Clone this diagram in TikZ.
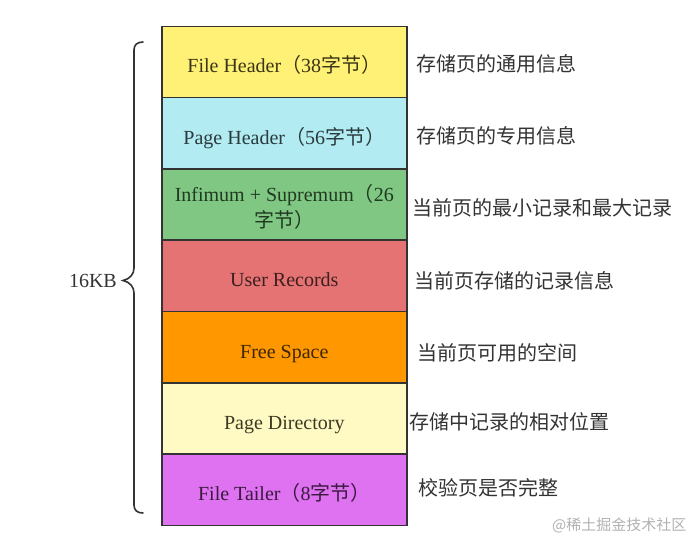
\documentclass[tikz,border=0pt]{standalone}
\usepackage{fontspec}
\setmainfont{Liberation Serif}
\newfontfamily\cjk{Noto Sans CJK SC}
\definecolor{cA}{HTML}{FFF176}
\definecolor{cB}{HTML}{B2EBF2}
\definecolor{cC}{HTML}{81C784}
\definecolor{cD}{HTML}{E57373}
\definecolor{cE}{HTML}{FF9800}
\definecolor{cF}{HTML}{FFF9C4}
\definecolor{cG}{HTML}{DF72F0}
\definecolor{tA}{HTML}{3A3516}
\definecolor{tB}{HTML}{2A3A3D}
\definecolor{tC}{HTML}{1F3A20}
\definecolor{tD}{HTML}{3D1F1F}
\definecolor{tE}{HTML}{3D2600}
\definecolor{tF}{HTML}{3D3A24}
\definecolor{tG}{HTML}{3A1A40}
\definecolor{edge}{HTML}{333333}
\definecolor{lbl}{HTML}{333333}
\tikzset{
  blk/.style={draw=edge, line width=1.6pt, minimum width=245pt, minimum height=71.3pt,
    inner sep=0pt, anchor=north west, align=center, text height=22pt, text depth=0pt,
    font=\fontsize{20}{24}\selectfont},
  desc/.style={anchor=west, text=lbl, inner sep=0pt, font=\cjk\fontsize{20}{24}\selectfont},
}
\begin{document}
\begin{tikzpicture}[x=1pt,y=-1pt]
\useasboundingbox (0,0) rectangle (700,549);
\fill[white] (0,0) rectangle (700,549);
\node[blk, fill=cA, text=tA] (fh) at (161,25.5) {File Header{\cjk（}38{\cjk 字节）}};
\node[blk, fill=cB, text=tB] (ph) at (161,96.8) {Page Header{\cjk（}56{\cjk 字节）}};
\node[blk, fill=cC, text=tC, text height=46pt] (is) at (161,168.1) {Infimum + Supremum{\cjk（}26\\[2pt]{\cjk 字节）}};
\node[blk, fill=cD, text=tD] (ur) at (161,239.4) {User Records};
\node[blk, fill=cE, text=tE] (fs) at (161,310.7) {Free Space};
\node[blk, fill=cF, text=tF] (pd) at (161,382.0) {Page Directory};
\node[blk, fill=cG, text=tG] (ft) at (161,453.3) {File Tailer{\cjk（}8{\cjk 字节）}};
% brace
\draw[edge, line width=1.6pt, line cap=round]
  (143,42) .. controls (137,42) and (134,45) .. (134,50)
  -- (134,268) .. controls (134,274) and (130,279) .. (123,280.5)
  .. controls (130,282) and (134,287) .. (134,293)
  -- (134,505) .. controls (134,510) and (137,513) .. (143,513);
\node[anchor=east, inner sep=0pt, text=lbl, font=\fontsize{20}{24}\selectfont] (kb) at (117,281) {16KB};
% descriptions
\node[desc] (d1) at (416,64) {存储页的通用信息};
\node[desc] (d2) at (416,136) {存储页的专用信息};
\node[desc] (d3) at (412,208) {当前页的最小记录和最大记录};
\node[desc] (d4) at (414,281) {当前页存储的记录信息};
\node[desc] (d5) at (417,353) {当前页可用的空间};
\node[desc] (d6) at (409,422) {存储中记录的相对位置};
\node[desc] (d7) at (418,488) {校验页是否完整};
\node[anchor=west, inner sep=0pt, text=black!30, font=\cjk\fontsize{15}{18}\selectfont] (wm) at (552,525) {@稀土掘金技术社区};
\end{tikzpicture}
\end{document}
